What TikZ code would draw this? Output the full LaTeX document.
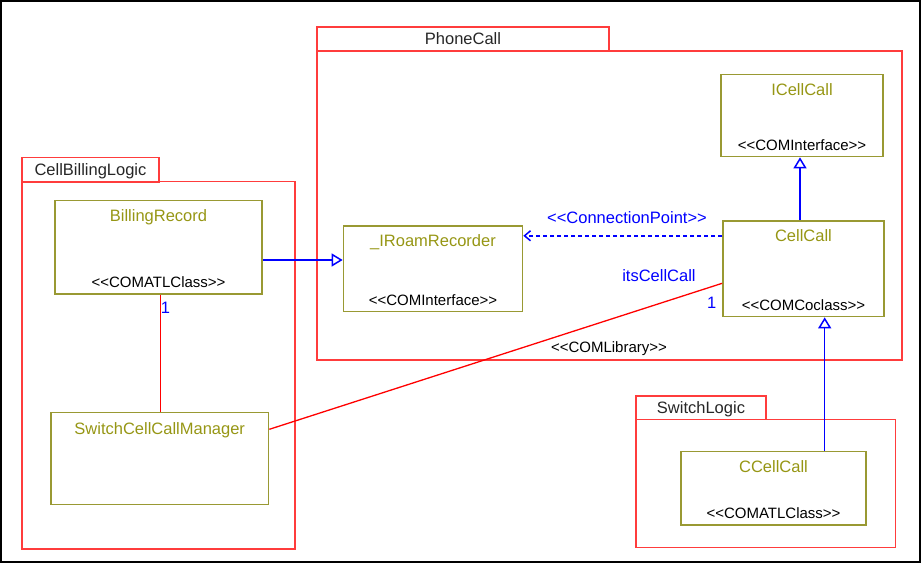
\documentclass[tikz,border=0pt]{standalone}
\usepackage{fontspec}
\newfontfamily\umlfont{Liberation Sans}
\usepackage{tikz}
\usetikzlibrary{arrows.meta}
\definecolor{pkgred}{RGB}{255,60,60}
\definecolor{clsolive}{RGB}{153,153,51}
\definecolor{nameolive}{RGB}{150,150,20}
\definecolor{linkblue}{RGB}{0,0,255}

\begin{document}
\begin{tikzpicture}[x=1pt,y=-1pt]
\tikzset{pkgtab/.style = {shape=rectangle,draw=pkgred,line width=1.5pt,inner sep=0pt,text=black!85,font=\umlfont\fontsize{16.5}{18}\selectfont,text height=11.8pt,text depth=0pt}}
\tikzset{pkgbody/.style = {shape=rectangle,draw=pkgred,line width=1.5pt,inner sep=0pt}}
\tikzset{classbox/.style = {shape=rectangle,draw=clsolive,line width=1.7pt,inner sep=0pt}}
\tikzset{clsname/.style = {text=nameolive,font=\umlfont\fontsize{16.5}{18}\selectfont,inner sep=0pt,text height=11.8pt,text depth=0pt}}
\tikzset{stereo/.style = {text=black,font=\umlfont\fontsize{15}{17}\selectfont,inner sep=0pt,text height=10.7pt,text depth=0pt}}
\tikzset{linklabel/.style = {text=linkblue,font=\umlfont\fontsize{16.5}{18}\selectfont,inner sep=0pt,text height=11.8pt,text depth=0pt}}
\tikzset{generalize/.style = {color=linkblue,line width=1.5pt,-{Triangle[open,length=11pt,width=13pt]}}}
\tikzset{connpt/.style = {color=linkblue,line width=1.5pt,dash pattern=on 4pt off 3pt,-{Straight Barb[length=6pt,width=10pt]}}}
\tikzset{assoc/.style = {color=red,line width=1.3pt}}
\useasboundingbox (0,0) rectangle (922,563);
\draw[line width=2pt] (1,1) rectangle (920,562);
% packages
\node[pkgtab,minimum width=292,minimum height=24] (phonecalltab) at (463,39) {PhoneCall};
\node[pkgbody,minimum width=585,minimum height=309] (phonecall) at (609.5,205.5) {};
\node[pkgtab,minimum width=137,minimum height=24.5] (billinglogictab) at (90.5,169.5) {CellBillingLogic};
\node[pkgbody,minimum width=273,minimum height=367.5] (billinglogic) at (158.5,365.25) {};
\node[pkgtab,minimum width=130,minimum height=23.5] (switchlogictab) at (701,407.75) {SwitchLogic};
\node[pkgbody,minimum width=259.5,minimum height=128] (switchlogic) at (765.75,483.5) {};
\node[stereo] (comlibrary) at (609,347.3) {<<COMLibrary>>};
% classes
\node[classbox,minimum width=162,minimum height=82] (icellcall) at (802,115.5) {};
\node[clsname] (icellcallname) at ([yshift=-15.5pt]icellcall.north) {ICellCall};
\node[stereo] (icellcallstereo) at ([yshift=12.5pt]icellcall.south) {<<COMInterface>>};
\node[classbox,minimum width=161,minimum height=95.5] (cellcall) at (803.5,268.75) {};
\node[clsname] (cellcallname) at ([yshift=-15pt]cellcall.north) {CellCall};
\node[stereo] (cellcallstereo) at ([yshift=12.5pt]cellcall.south) {<<COMCoclass>>};
\node[classbox,minimum width=179,minimum height=85.5] (roamrecorder) at (433,268.75) {};
\node[clsname] (roamrecordername) at ([yshift=-15.5pt]roamrecorder.north) {\_IRoamRecorder};
\node[stereo] (roamrecorderstereo) at ([yshift=12.5pt]roamrecorder.south) {<<COMInterface>>};
\node[classbox,minimum width=207,minimum height=93.5] (billingrecord) at (158.5,247.25) {};
\node[clsname] (billingrecordname) at ([yshift=-15.5pt]billingrecord.north) {BillingRecord};
\node[stereo] (billingrecordstereo) at ([yshift=12.5pt]billingrecord.south) {<<COMATLClass>>};
\node[classbox,minimum width=217.5,minimum height=92] (switchmgr) at (159.75,458.5) {};
\node[clsname] (switchmgrname) at ([yshift=-16.5pt]switchmgr.north) {SwitchCellCallManager};
\node[classbox,minimum width=185,minimum height=73.5] (ccellcall) at (773.5,488.25) {};
\node[clsname] (ccellcallname) at ([yshift=-15.8pt]ccellcall.north) {CCellCall};
\node[stereo] (ccellcallstereo) at ([yshift=12.3pt]ccellcall.south) {<<COMATLClass>>};
% link labels
\node[linklabel] (connptlabel) at (627,218) {<<ConnectionPoint>>};
\node[linklabel] (rolelabel) at (659,276) {itsCellCall};
\node[linklabel] (multcell) at (711.7,302.7) {1};
\node[linklabel] (multbilling) at (165.5,308) {1};
%links
\draw[generalize] ([yshift=-12.75pt]billingrecord.east) -- ([yshift=-12.75pt]billingrecord.east -| roamrecorder.west);
\draw[generalize] ([xshift=-3.5pt]cellcall.north) -- ([xshift=-3.5pt]cellcall.north |- icellcall.south);
\draw[generalize] ([xshift=51.2pt]ccellcall.north) -- ([xshift=51.2pt]ccellcall.north |- cellcall.south);
\draw[connpt] ([yshift=33pt]cellcall.west) -- ([yshift=33pt]cellcall.west -| roamrecorder.east);
\draw[assoc] ([xshift=2.2pt]billingrecord.south) -- ([xshift=2.2pt]billingrecord.south |- switchmgr.north);
\draw[assoc] ([yshift=29.2pt]switchmgr.east) -- ([yshift=-14.55pt]cellcall.west);
\end{tikzpicture}
\end{document}
